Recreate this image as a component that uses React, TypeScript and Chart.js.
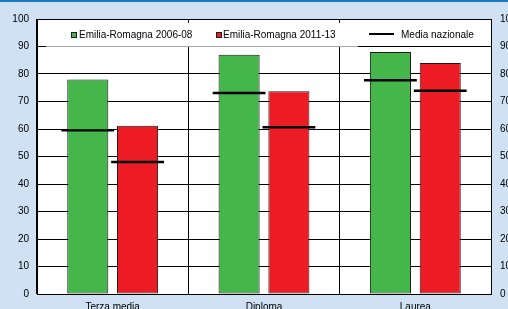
import React, { useEffect, useRef } from 'react';
import { Chart, registerables } from 'chart.js';

Chart.register(...registerables);

// ---- data ----
const categories = ['Terza media', 'Diploma', 'Laurea'];
const seriesLabels = ['Emilia-Romagna 2006-08', 'Emilia-Romagna 2011-13', 'Media nazionale'];
const er2006 = [78, 87, 88];
const er2011 = [61.2, 73.7, 84];
const media2006 = [59.5, 73.1, 77.7];
const media2011 = [48, 60.6, 73.9];
const yMin = 0;
const yMax = 100;
const yStep = 10;

const GREEN = '#45b649';
const RED = '#ed1c24';
const FONT = '"Liberation Sans", Arial, sans-serif';
const MARK_HALF = 0.45; // half thickness of the national-average dash, in value units

const bgPlugin = {
  id: 'bgPlugin',
  beforeDraw(chart: any) {
    const { ctx, width, height, chartArea: a } = chart;
    ctx.save();
    ctx.fillStyle = '#cfe1f2';
    ctx.fillRect(0, 0, width, height);
    ctx.fillStyle = '#1f7bc4';
    ctx.fillRect(0, 0, width, 2);
    ctx.fillStyle = '#ffffff';
    ctx.fillRect(a.left, a.top, a.right - a.left, a.bottom - a.top);
    ctx.restore();
  },
};

const legendPlugin = {
  id: 'legendPlugin',
  beforeDatasetsDraw(chart: any) {
    const { ctx, chartArea: a, scales } = chart;
    const y90 = Math.floor(scales.y.getPixelForValue(90));
    const boxL = a.left + 9;
    const boxR = 358;
    const boxT = a.top + 4;
    ctx.save();
    ctx.fillStyle = '#ffffff';
    ctx.fillRect(boxL, boxT, boxR - boxL, y90 - boxT);
    ctx.fillStyle = '#a8a8a8';
    ctx.fillRect(boxL, y90, boxR - boxL, 1);

    ctx.font = '10px ' + FONT;
    ctx.textBaseline = 'alphabetic';
    ctx.textAlign = 'left';
    const base = 38;
    ctx.strokeStyle = '#1a1a1a';
    ctx.lineWidth = 1;
    ctx.fillStyle = GREEN;
    ctx.fillRect(71, 32, 5, 5);
    ctx.strokeRect(71.5, 32.5, 5, 5);
    ctx.fillStyle = '#000';
    ctx.fillText(seriesLabels[0], 79, base);
    ctx.fillStyle = RED;
    ctx.fillRect(216, 32, 5, 5);
    ctx.strokeRect(216.5, 32.5, 5, 5);
    ctx.fillStyle = '#000';
    ctx.fillText(seriesLabels[1], 223, base);
    ctx.fillRect(369, 33, 25, 2);
    ctx.fillText(seriesLabels[2], 401, base);
    ctx.restore();
  },
};

export default function App() {
  const ref = useRef<HTMLCanvasElement | null>(null);

  useEffect(() => {
    if (!ref.current) return;
    const barStyle = {
      borderColor: '#1a1a1a',
      borderWidth: 1,
      borderSkipped: false,
      categoryPercentage: 0.658,
      barPercentage: 0.825,
      order: 2,
    };
    const markStyle = {
      label: seriesLabels[2],
      backgroundColor: '#000',
      borderWidth: 0,
      borderSkipped: false,
      categoryPercentage: 0.658,
      barPercentage: 1.06,
      order: 1,
    };
    const chart = new Chart(ref.current, {
      type: 'bar',
      data: {
        labels: categories,
        datasets: [
          { ...barStyle, stack: 'a', label: seriesLabels[0], data: er2006, backgroundColor: GREEN } as any,
          { ...barStyle, stack: 'b', label: seriesLabels[1], data: er2011, backgroundColor: RED } as any,
          { ...markStyle, stack: 'a', data: media2006.map((v) => [v - MARK_HALF, v + MARK_HALF]) } as any,
          { ...markStyle, stack: 'b', data: media2011.map((v) => [v - MARK_HALF, v + MARK_HALF]) } as any,
        ],
      },
      options: {
        responsive: false,
        animation: false,
        layout: { autoPadding: false, padding: { top: 19, left: 0, right: 0, bottom: 0 } },
        plugins: { legend: { display: false }, tooltip: { enabled: false } },
        scales: {
          x: {
            type: 'category',
            stacked: true,
            offset: true,
            grid: { display: true, offset: true, color: '#000', lineWidth: 1, drawTicks: false },
            border: { display: true, color: '#000', width: 1 },
            ticks: { color: '#000', font: { size: 10, family: FONT }, padding: 7, maxRotation: 0 },
            afterFit: (s: any) => { s.height = 15; },
          },
          y: {
            type: 'linear',
            stacked: false,
            position: 'left',
            min: yMin,
            max: yMax,
            ticks: { stepSize: yStep, color: '#000', font: { size: 10, family: FONT }, padding: 8 },
            grid: { color: '#000', lineWidth: 1, drawTicks: false },
            border: { display: true, color: '#000', width: 1 },
            afterFit: (s: any) => { s.width = 37; },
          },
          y2: {
            type: 'linear',
            position: 'right',
            min: yMin,
            max: yMax,
            ticks: { stepSize: yStep, color: '#000', font: { size: 10, family: FONT }, padding: 9 },
            grid: { display: false, drawTicks: false },
            border: { display: true, color: '#000', width: 1 },
            afterFit: (s: any) => { s.width = 17; },
          },
        },
      },
      plugins: [bgPlugin, legendPlugin],
    });
    return () => chart.destroy();
  }, []);

  return (
    <div style={{ position: 'fixed', left: 0, top: 0, width: 508, height: 309 }}>
      <canvas ref={ref} width={508} height={309} style={{ display: 'block' }} />
    </div>
  );
}
